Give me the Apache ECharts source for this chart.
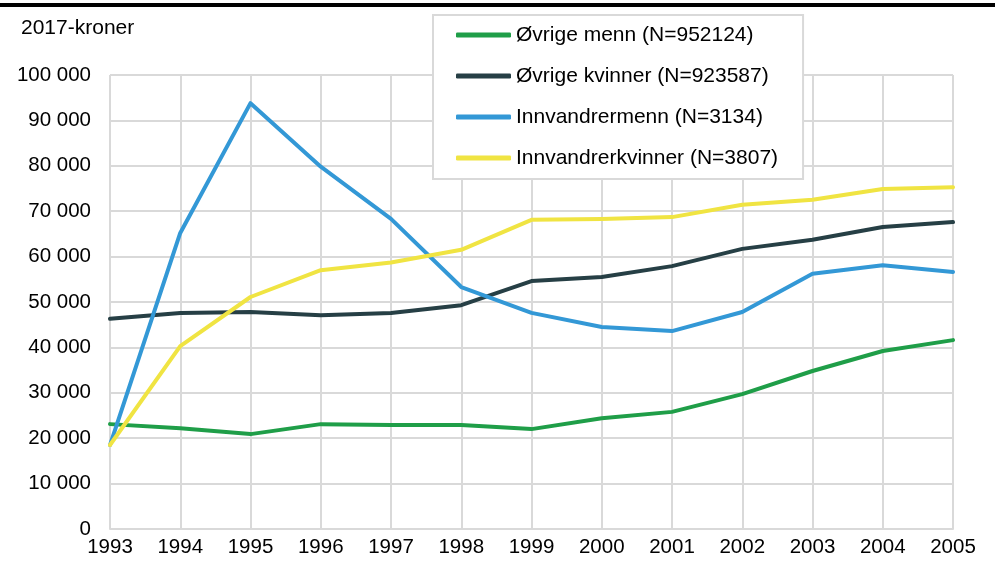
<!DOCTYPE html>
<html>
<head>
<meta charset="utf-8">
<script src="https://cdn.jsdelivr.net/npm/echarts@6/dist/echarts.min.js"></script>
<style>
  html,body{margin:0;padding:0;background:#fff;}
  #chart{width:995px;height:572px;}
</style>
</head>
<body>
<div id="chart"></div>
<script>
// år
var years = ['1993','1994','1995','1996','1997','1998','1999','2000','2001','2002','2003','2004','2005']

// serier (2017-kroner)
var ovrigeMenn = [23100,22200,20900,23100,22900,22900,22000,24400,25800,29700,34800,39200,41600]
var ovrigeKvinner = [46300,47600,47800,47100,47600,49300,54600,55500,57900,61700,63700,66500,67600]
var innvMenn = [18500,65200,93800,79800,68300,53300,47600,44500,43600,47800,56200,58100,56600]
var innvKvinner = [18500,40300,51100,57000,58700,61500,68100,68300,68700,71400,72500,74900,75300]

var names = [
  'Øvrige menn (N=952124)',
  'Øvrige kvinner (N=923587)',
  'Innvandrermenn (N=3134)',
  'Innvandrerkvinner (N=3807)'
]
var colors = ['#1f9e48','#263f45','#3398d6','#f0e442']
var font = 'Liberation Sans, Arial, sans-serif'

function fmt(v){
  return String(v).replace(/\B(?=(\d{3})+(?!\d))/g,' ')
}

function line(name, data, color){
  return {
    name: name,
    type: 'line',
    data: data,
    symbol: 'none',
    z: 3,
    lineStyle: {width: 4, color: color, cap: 'round', join: 'round'},
    itemStyle: {color: color}
  }
}

var chart = echarts.init(document.getElementById('chart'))

var option = {
  animation: false,
  backgroundColor: '#fff',
  textStyle: {fontFamily: font},
  graphic: [
    {type: 'rect', left: 0, top: 3, shape: {width: 995, height: 4}, style: {fill: '#000'}},
    {type: 'text', left: 21, top: 18, style: {text: '2017-kroner', fontSize: 21, fill: '#000', fontFamily: font}}
  ],
  grid: {left: 110, right: 42, top: 75, bottom: 43},
  legend: {
    orient: 'vertical',
    left: 433,
    top: 15,
    padding: [9, 25, 10, 23],
    itemGap: 19,
    itemWidth: 55,
    itemHeight: 5,
    icon: 'roundRect',
    backgroundColor: '#fff',
    borderColor: '#d9d9d9',
    borderWidth: 2,
    z: 10,
    textStyle: {fontSize: 21, color: '#000', lineHeight: 22},
    data: names
  },
  xAxis: {
    type: 'category',
    boundaryGap: false,
    data: years,
    axisLine: {show: true, lineStyle: {color: '#d9d9d9', width: 2}},
    axisTick: {show: false},
    axisLabel: {fontSize: 20.5, color: '#000', margin: 8, interval: 0},
    splitLine: {show: true, lineStyle: {color: '#d9d9d9', width: 2}}
  },
  yAxis: {
    type: 'value',
    min: 0,
    max: 100000,
    interval: 10000,
    axisLine: {show: false},
    axisTick: {show: false},
    axisLabel: {fontSize: 20.5, color: '#000', margin: 19, formatter: fmt},
    splitLine: {show: true, lineStyle: {color: '#d9d9d9', width: 2}}
  },
  series: [
    line(names[0], ovrigeMenn, colors[0]),
    line(names[1], ovrigeKvinner, colors[1]),
    line(names[2], innvMenn, colors[2]),
    line(names[3], innvKvinner, colors[3])
  ]
}

chart.setOption(option)
</script>
</body>
</html>
